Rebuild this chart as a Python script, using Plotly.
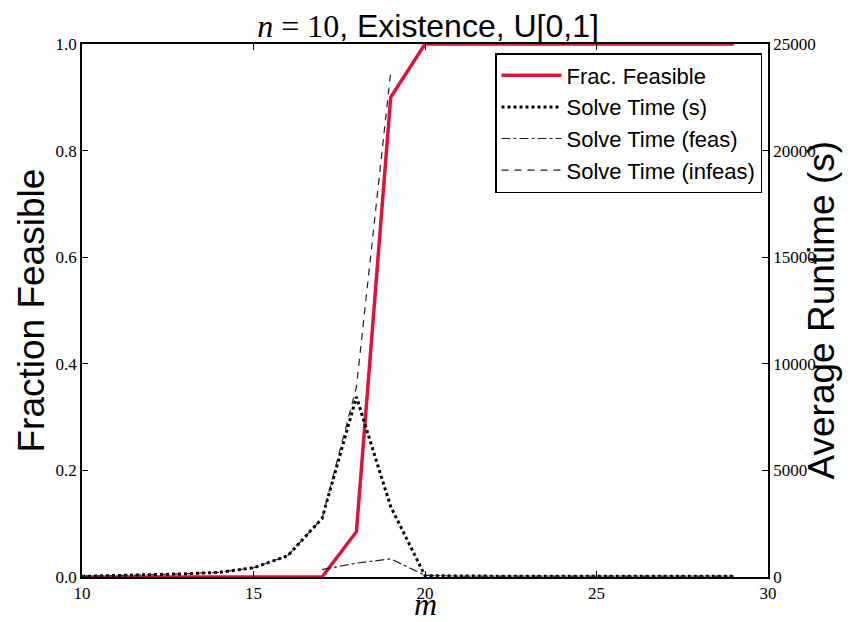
import plotly.graph_objects as go

m = list(range(10, 30))
frac_feasible = [0, 0, 0, 0, 0, 0, 0, 0, 0.085, 0.9, 1, 1, 1, 1, 1, 1, 1, 1, 1, 1]
solve_time = [30, 60, 100, 150, 220, 430, 1000, 2750, 8450, 3300, 60, 40, 40, 40, 40, 40, 40, 40, 40, 40]
solve_feas = [None] * 7 + [350, 650, 850, 80, 40, 40, 40, 40, 40, 40, 40, 40, 40]
solve_infeas = [30, 60, 100, 150, 220, 430, 1000, 2750, 8900, 23700] + [None] * 10

serif = "Liberation Serif"
sans = "Liberation Sans"

# page body adds an 8px offset; work in figure coordinates
OFF = 8
W, H = 868 - OFF, 622 - OFF
L, T = 82 - OFF, 44 - OFF
pw, ph = 686, 533
R, B = W - L - pw, H - T - ph

def px(xp):
    return (xp - OFF - L) / pw

def py(yp):
    return (H - B - (yp - OFF)) / ph

fig = go.Figure()
fig.add_trace(go.Scatter(x=m, y=frac_feasible, mode="lines", name="Frac. Feasible",
                         line=dict(color="#DC143C", width=3.5), yaxis="y"))
fig.add_trace(go.Scatter(x=m, y=solve_time, mode="lines", name="Solve Time (s)",
                         line=dict(color="black", width=3, dash="dot"), yaxis="y2"))
fig.add_trace(go.Scatter(x=m, y=solve_feas, mode="lines", name="Solve Time (feas)",
                         line=dict(color="#222222", width=1.2, dash="dashdot"), yaxis="y2"))
fig.add_trace(go.Scatter(x=m, y=solve_infeas, mode="lines", name="Solve Time (infeas)",
                         line=dict(color="#222222", width=1.2, dash="7px,6px"), yaxis="y2"))

tickfont = dict(family=serif, size=17, color="black")

fig.update_layout(
    width=W, height=H,
    margin=dict(l=L, r=R, t=T, b=B, autoexpand=False),
    paper_bgcolor="white", plot_bgcolor="white",
    title=dict(text="<span style=\"font-family:'Liberation Serif'\"><i>n</i> = 10</span>, Existence, U[0,1]",
               x=(428 - OFF) / W, xanchor="center", y=1 - (26 - OFF) / H, yanchor="middle",
               font=dict(family=sans, size=32, color="black")),
    xaxis=dict(range=[10, 30], tickvals=[10, 15, 20, 25, 30], ticks="inside", ticklen=6,
               tickcolor="black", mirror="ticks", showline=True, linecolor="black", linewidth=1.5,
               showgrid=False, zeroline=False, automargin=False, tickfont=tickfont),
    yaxis=dict(range=[0, 1], tickvals=[0, 0.2, 0.4, 0.6, 0.8, 1.0], tickformat=".1f",
               ticks="inside", ticklen=6, tickcolor="black", showline=True, linecolor="black",
               linewidth=1.5, showgrid=False, zeroline=False, automargin=False, tickfont=tickfont),
    yaxis2=dict(range=[0, 25000], tickvals=[0, 5000, 10000, 15000, 20000, 25000], tickformat="d",
                overlaying="y", side="right", ticks="inside", ticklen=6, tickcolor="black",
                showline=True, linecolor="black", linewidth=1.5, showgrid=False, zeroline=False,
                automargin=False, tickfont=tickfont),
    legend=dict(x=px(762), xanchor="right", y=py(53), yanchor="top",
                bgcolor="white", bordercolor="black", borderwidth=1.5,
                font=dict(family=sans, size=22, color="black"), itemwidth=60),
    showlegend=True,
    annotations=[
        dict(text="Fraction Feasible", xref="paper", yref="paper", x=px(31), y=0.5,
             textangle=-90, showarrow=False, xanchor="center", yanchor="middle",
             font=dict(family=sans, size=37, color="black")),
        dict(text="Average Runtime (s)", xref="paper", yref="paper", x=px(821), y=0.5,
             textangle=-90, showarrow=False, xanchor="center", yanchor="middle",
             font=dict(family=sans, size=37, color="black")),
        dict(text="<i>m</i>", xref="paper", yref="paper", x=0.5, y=py(604),
             showarrow=False, xanchor="center", yanchor="middle",
             font=dict(family=serif, size=32, color="black")),
    ],
)

fig.write_html("out.html")
